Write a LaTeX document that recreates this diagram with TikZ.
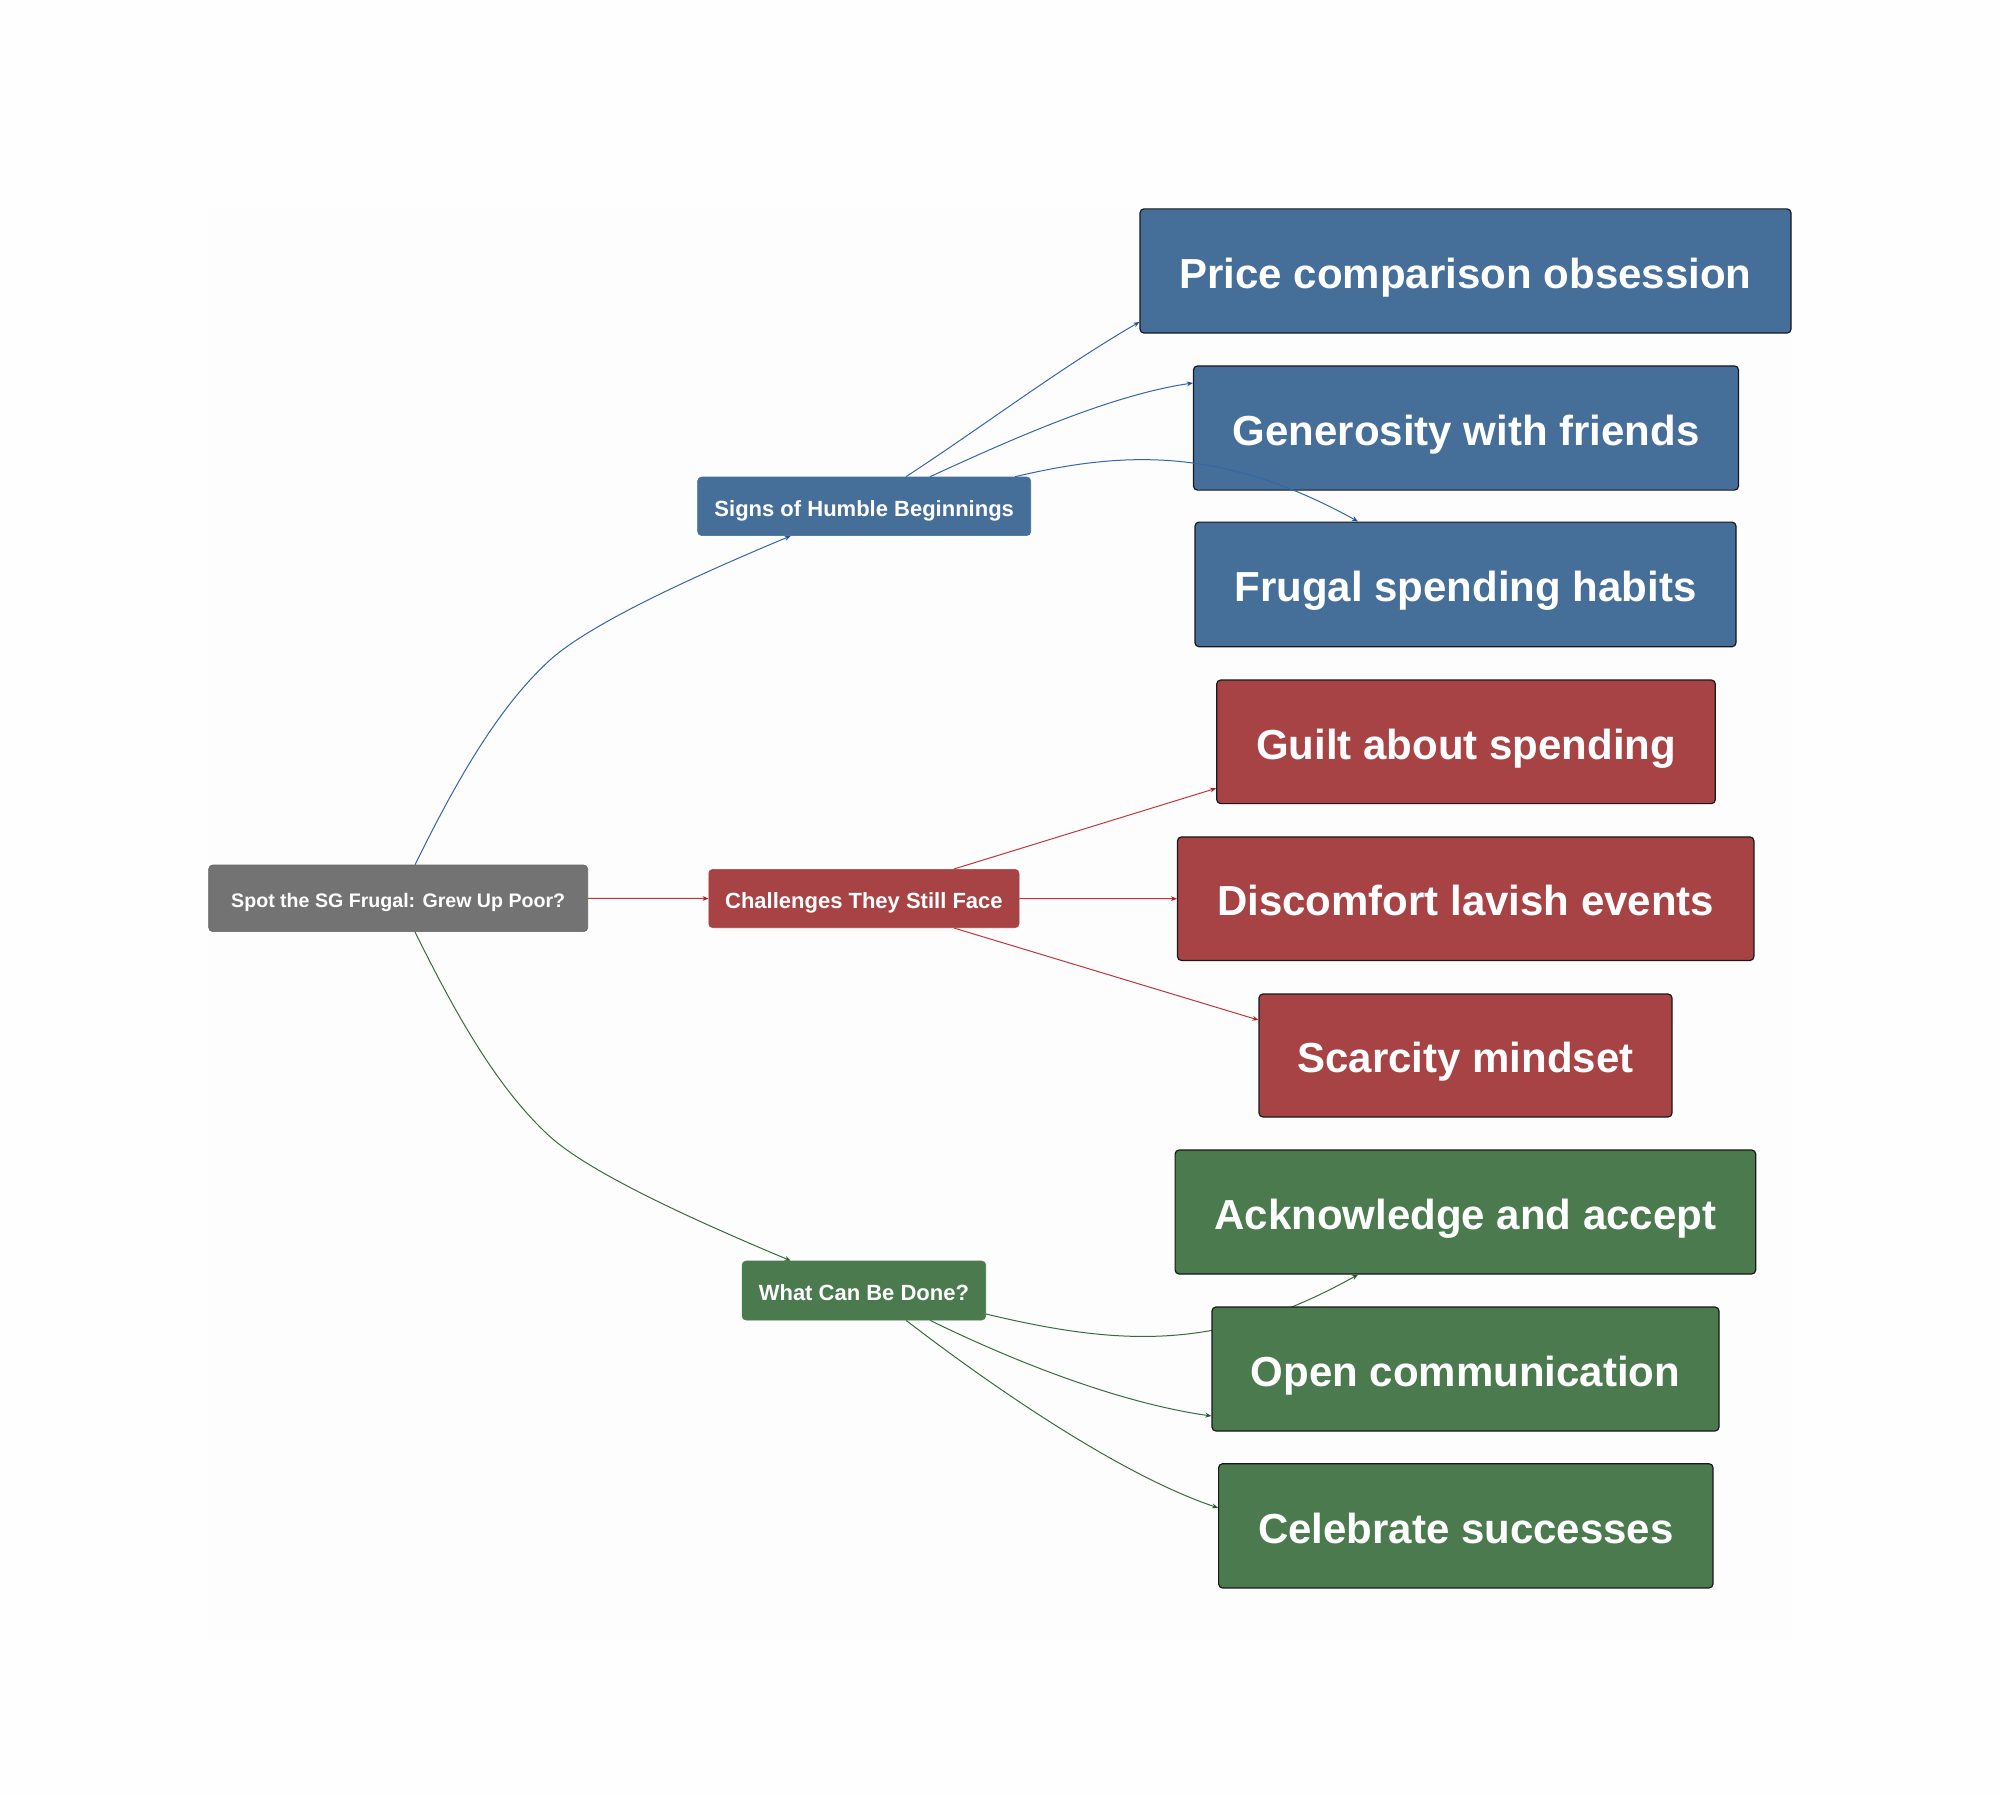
\documentclass[tikz,border=0pt]{standalone}
\usepackage{fontspec}
\setmainfont{Liberation Sans}
\usetikzlibrary{arrows.meta,calc}
\definecolor{bluefill}{HTML}{456E99}
\definecolor{redfill}{HTML}{A84345}
\definecolor{greenfill}{HTML}{4A7A4E}
\definecolor{greyfill}{HTML}{737373}
\definecolor{blueedge}{HTML}{3565AA}
\definecolor{rededge}{HTML}{C0353B}
\definecolor{greenedge}{HTML}{386C3E}
\definecolor{bluetip}{HTML}{1F4FA0}
\definecolor{redtip}{HTML}{A82028}
\definecolor{greentip}{HTML}{1F5A28}
\definecolor{panel}{HTML}{FDFDFD}
\definecolor{page}{HTML}{FEFEFE}
\tikzset{
  box/.style={rectangle,rounded corners=2pt,inner sep=0pt,text=white,align=center},
  small/.style={box,font=\fontsize{11}{13}\selectfont\bfseries,line width=0.3pt,text height=11pt,text depth=1.2pt},
  rootbox/.style={box,font=\fontsize{9.8}{12}\selectfont\bfseries,line width=0.3pt,text height=10pt,text depth=1pt},
  big/.style={box,font=\fontsize{21}{26}\selectfont\bfseries,draw=black!90,line width=0.6pt,text height=20pt,text depth=2.8pt},
  blueline/.style={line width=0.5pt,draw=blueedge,-{Stealth[length=3pt,width=2.4pt,color=bluetip]}},
  redline/.style={line width=0.5pt,draw=rededge,-{Stealth[length=3pt,width=2.4pt,color=redtip]}},
  greenline/.style={line width=0.5pt,draw=greenedge,-{Stealth[length=3pt,width=2.4pt,color=greentip]}},
}
\begin{document}
\begin{tikzpicture}[x=0.5pt,y=-0.5pt]
\useasboundingbox (0,0) rectangle (2000,1797);
\fill[page] (0,0) rectangle (2000,1797);
\fill[panel] (207,207) rectangle (1793,1640);

% green edge that passes behind the Open box is drawn first
\node[small,fill=greenfill,draw=greenfill,minimum width=121.8pt,minimum height=29.5pt] (what) at (863.9,1290.5) {What Can Be Done?};
\node[big,fill=greenfill,minimum width=290.3pt,minimum height=62pt] (ack) at (1465.4,1212) {Acknowledge and accept};
\draw[greenline] (what.east |- 0,1314) .. controls (1120,1346) and (1220,1352) .. ($(ack.south)+(-107.4,0)$);

\node[rootbox,fill=greyfill,draw=greyfill!85!black,minimum width=189.5pt,minimum height=33.3pt] (root) at (398.2,898.3) {Spot the SG Frugal: Grew Up Poor?};
\node[small,fill=bluefill,draw=bluefill,minimum width=166.5pt,minimum height=29.3pt] (signs) at (864.2,506.3) {Signs of Humble Beginnings};
\node[small,fill=redfill,draw=redfill,minimum width=155.1pt,minimum height=29.2pt] (chall) at (863.9,898.5) {Challenges They Still Face};

\node[big,fill=bluefill,minimum width=325.5pt,minimum height=62.1pt] (price) at (1465.5,271) {Price comparison obsession};
\node[big,fill=bluefill,minimum width=272.5pt,minimum height=62.1pt] (gen) at (1466,428) {Generosity with friends};
\node[big,fill=bluefill,minimum width=270.5pt,minimum height=62.3pt] (frug) at (1465.5,584.4) {Frugal spending habits};
\node[big,fill=redfill,minimum width=249.3pt,minimum height=61.8pt] (guilt) at (1466,741.8) {Guilt about spending};
\node[big,fill=redfill,minimum width=288.2pt,minimum height=61.8pt] (disc) at (1465.7,898.7) {Discomfort lavish events};
\node[big,fill=redfill,minimum width=206.5pt,minimum height=61.5pt] (scar) at (1465.5,1055.5) {Scarcity mindset};
\node[big,fill=greenfill,minimum width=253.5pt,minimum height=62pt] (open) at (1465.5,1369) {Open communication};
\node[big,fill=greenfill,minimum width=247.2pt,minimum height=62.1pt] (cele) at (1465.8,1525.8) {Celebrate successes};

% root to branches
\draw[blueline] ($(root.north)+(16.8,0)$) .. controls (452,790) and (495,710) .. (550,660) .. controls (590,624) and (690,578) .. ($(signs.south)+(-73.5,0)$);
\draw[redline] (root.east) -- (chall.west);
\draw[greenline] ($(root.south)+(16.8,0)$) .. controls (452,1006.6) and (495,1086.6) .. (550,1136.6) .. controls (590,1172.6) and (690,1218.6) .. ($(what.north)+(-73.2,0)$);

% blue
\draw[blueline] ($(signs.north)+(41.8,0)$) .. controls (985,425) and (1060,368) .. ($(price.west)+(0,51)$);
\draw[blueline] ($(signs.north)+(65.8,0)$) .. controls (1010,440) and (1110,395) .. ($(gen.west)+(0,-45)$);
\draw[blueline] ($(signs.north)+(150.8,0)$) .. controls (1120,452) and (1220,445) .. ($(frug.north)+(-107.5,0)$);

% red
\draw[redline] ($(chall.north)+(90,0)$) -- ($(guilt.west)+(0,46.5)$);
\draw[redline] (chall.east) -- (disc.west);
\draw[redline] ($(chall.south)+(90,0)$) -- ($(scar.west)+(0,-35.5)$);

% green
\draw[greenline] ($(what.south)+(66.1,0)$) .. controls (1015,1362) and (1120,1403) .. ($(open.west)+(0,47)$);
\draw[greenline] ($(what.south)+(42.1,0)$) .. controls (990,1385) and (1120,1475) .. ($(cele.west)+(0,-18)$);
\end{tikzpicture}
\end{document}
